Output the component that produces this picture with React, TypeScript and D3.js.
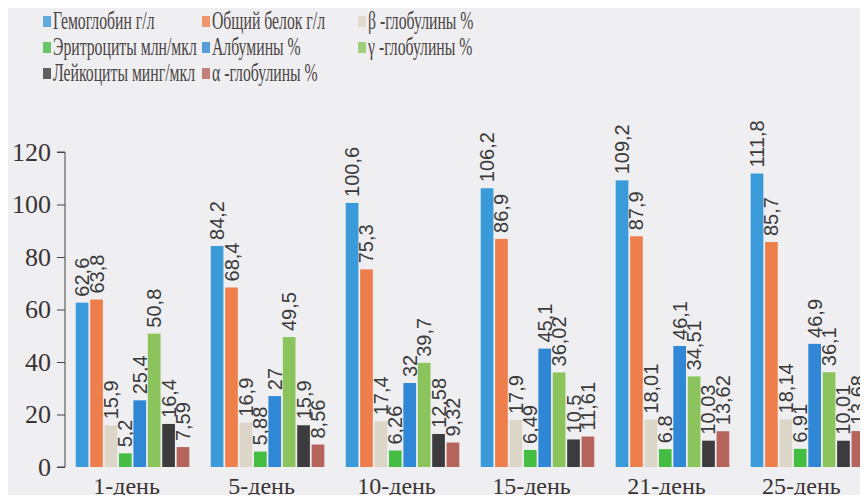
import { useEffect, useRef } from "react";
import * as d3 from "d3";

const days = ["1-день", "5-день", "10-день", "15-день", "21-день", "25-день"];

const seriesNames = [
  "Гемоглобин  г/л",
  "Общий белок г/л",
  "β -глобулины %",
  "Эритроциты млн/мкл",
  "Албумины %",
  "γ -глобулины %",
  "Лейкоциты минг/мкл",
  "α -глобулины %",
];

const hemoglobin = [62.6, 84.2, 100.6, 106.2, 109.2, 111.8];
const totalProtein = [63.8, 68.4, 75.3, 86.9, 87.9, 85.7];
const betaGlob = [15.9, 16.9, 17.4, 17.9, 18.01, 18.14];
const erythrocytes = [5.2, 5.88, 6.26, 6.49, 6.8, 6.91];
const albumins = [25.4, 27, 32, 45.1, 46.1, 46.9];
const gammaGlob = [50.8, 49.5, 39.7, 36.02, 34.51, 36.1];
const leukocytes = [16.4, 15.9, 12.58, 10.5, 10.03, 10.01];
const alphaGlob = [7.59, 8.56, 9.32, 11.61, 13.62, 13.68];

const seriesValues = [
  hemoglobin,
  totalProtein,
  betaGlob,
  erythrocytes,
  albumins,
  gammaGlob,
  leukocytes,
  alphaGlob,
];

const colors = [
  "#3b9bda",
  "#ee7f4c",
  "#dbd6c8",
  "#45bd43",
  "#3087d5",
  "#8bc45c",
  "#3c3b3d",
  "#b5655b",
];

const yTicks = [0, 20, 40, 60, 80, 100, 120];

const W = 868;
const H = 503;

export default function App() {
  const svgRef = useRef<SVGSVGElement>(null);

  useEffect(() => {
    if (!svgRef.current) return;
    const svg = d3.select(svgRef.current);
    svg.selectAll("*").remove();

    svg.append("rect").attr("width", W).attr("height", H).attr("fill", "#efeff2");

    const y = d3.scaleLinear().domain([0, 120]).range([467, 152]);

    const x0 = d3
      .scaleBand<string>()
      .domain(days)
      .range([65, 875])
      .paddingInner(0.133)
      .paddingOuter(0.067);

    const x1 = d3
      .scaleBand<number>()
      .domain(d3.range(seriesNames.length))
      .range([0, x0.bandwidth()])
      .padding(0.12);

    // ось Y
    const yAxis = svg
      .append("g")
      .attr("transform", "translate(65,0)")
      .call(
        d3
          .axisLeft(y)
          .tickValues(yTicks)
          .tickSize(8)
          .tickPadding(6)
          .tickFormat((d) => String(d)),
      );
    yAxis.select(".domain").attr("stroke", "#444").attr("d", "M-8,152H0V467H-8");
    yAxis.selectAll(".tick line").attr("stroke", "#444");
    yAxis
      .selectAll(".tick text")
      .attr("fill", "#3a3333")
      .style("font-family", "'Liberation Serif', 'Times New Roman', serif")
      .style("font-size", "26px");

    // столбцы
    const groups = svg
      .selectAll(".day")
      .data(days)
      .enter()
      .append("g")
      .attr("class", "day")
      .attr("transform", (d) => `translate(${x0(d)},0)`);

    groups.each(function (_d, di) {
      const g = d3.select(this);
      seriesValues.forEach((vals, si) => {
        const v = vals[di];
        const bx = x1(si) as number;
        g.append("rect")
          .attr("x", bx)
          .attr("y", y(v))
          .attr("width", x1.bandwidth())
          .attr("height", y(0) - y(v))
          .attr("fill", colors[si]);
        const cx = bx + x1.bandwidth() / 2;
        g.append("text")
          .attr("transform", `translate(${cx + 7},${y(v) - 6}) rotate(-90)`)
          .attr("fill", "#3a3a3a")
          .style("font-family", "'Liberation Sans', Arial, sans-serif")
          .style("font-size", "20px")
          .text(String(v).replace(".", ","));
      });
    });

    // подписи категорий
    svg
      .selectAll(".day-label")
      .data(days)
      .enter()
      .append("text")
      .attr("class", "day-label")
      .attr("x", (d) => (x0(d) as number) + x0.bandwidth() / 2 - 6)
      .attr("y", 494)
      .attr("text-anchor", "middle")
      .attr("fill", "#3a3333")
      .style("font-family", "'Liberation Serif', 'Times New Roman', serif")
      .style("font-size", "24px")
      .text((d) => d);

    // легенда
    const colX = [43, 202, 358];
    const legend = svg
      .selectAll(".legend-item")
      .data(seriesNames)
      .enter()
      .append("g")
      .attr("class", "legend-item")
      .attr(
        "transform",
        (_d, i) => `translate(${colX[i % 3]},${21 + Math.floor(i / 3) * 26})`,
      );
    legend
      .append("rect")
      .attr("x", 0)
      .attr("y", -5)
      .attr("width", 8)
      .attr("height", 11)
      .attr("fill", (_d, i) => colors[i])
      .attr("opacity", 0.8);
    legend
      .append("text")
      .attr("transform", "translate(10,8) scale(0.63,1)")
      .attr("fill", "#4a4444")
      .style("font-family", "'Liberation Serif', 'Times New Roman', serif")
      .style("font-size", "25px")
      .text((d) => d);
  }, []);

  return (
    <div style={{ width: W, height: H, margin: -8 }}>
      <svg ref={svgRef} width={W} height={H} style={{ display: "block" }} />
    </div>
  );
}
